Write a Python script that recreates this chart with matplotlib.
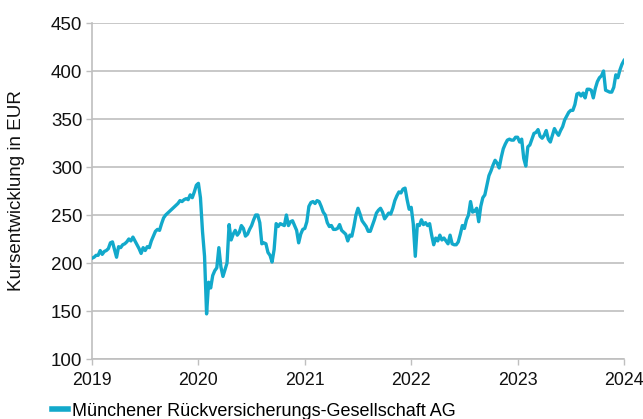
import matplotlib
matplotlib.use("Agg")
import matplotlib.pyplot as plt
import numpy as np
import pandas as pd

series_name = "Münchener Rückversicherungs-Gesellschaft AG"
y_label = "Kursentwicklung in EUR"

# weekly closing prices (EUR)
prices_2019 = [205, 206, 208, 208, 213, 209, 212, 213, 215, 221, 222, 214, 206,
               217, 216, 219, 220, 222, 225, 223, 227, 223, 219, 215, 210, 216,
               213, 217, 216, 223, 228, 233, 235, 234, 241, 247, 250, 252, 254,
               256, 258, 260, 262, 265, 264, 266, 267, 266, 271, 268, 274, 281]
prices_2020 = [283, 268, 233, 207, 147, 180, 174, 187, 192, 195, 216, 196, 186,
               193, 200, 240, 224, 230, 234, 229, 232, 239, 236, 228, 230, 235,
               239, 245, 250, 250, 242, 220, 221, 220, 211, 208, 201, 214, 241,
               238, 241, 240, 239, 250, 239, 243, 244, 239, 234, 221, 230, 235]
prices_2021 = [236, 243, 259, 263, 264, 262, 265, 264, 259, 253, 250, 242, 238,
               239, 235, 235, 236, 240, 234, 232, 230, 223, 229, 228, 238, 250,
               257, 251, 244, 241, 238, 233, 233, 239, 245, 252, 255, 257, 253,
               246, 249, 252, 251, 257, 265, 270, 274, 273, 277, 278, 266, 256]
prices_2022 = [258, 241, 207, 240, 239, 245, 240, 242, 239, 241, 229, 219, 226,
               223, 229, 224, 226, 223, 220, 229, 220, 219, 219, 222, 230, 239,
               236, 245, 250, 264, 253, 254, 257, 243, 259, 268, 271, 281, 291,
               296, 302, 307, 304, 299, 310, 319, 324, 328, 329, 328, 328, 331]
prices_2023 = [331, 326, 329, 309, 301, 321, 323, 329, 335, 336, 339, 332, 330,
               333, 338, 329, 326, 333, 340, 336, 333, 338, 342, 349, 353, 357,
               359, 359, 365, 376, 377, 374, 377, 372, 381, 381, 380, 372, 382,
               389, 393, 395, 400, 380, 379, 378, 378, 383, 396, 393, 401, 407]
price_end = [411]

values = prices_2019 + prices_2020 + prices_2021 + prices_2022 + prices_2023 + price_end
dates = pd.date_range("2019-01-01", "2024-01-01", periods=len(values))

y_ticks = [100, 150, 200, 250, 300, 350, 400, 450]
x_years = [2019, 2020, 2021, 2022, 2023, 2024]

line_color = "#12A9CB"
grid_color = "#BFBFBF"

plt.rcParams["font.family"] = ["Liberation Sans", "DejaVu Sans"]

fig = plt.figure(figsize=(6.43, 4.19), dpi=100)
ax = fig.add_axes([92 / 643, 1 - 359 / 419, (624 - 92) / 643, (359 - 23) / 419])

ax.plot(dates, values, color=line_color, lw=2.4, solid_joinstyle="round",
        label=series_name, zorder=3)

ax.set_ylim(100, 450)
ax.set_yticks(y_ticks)
ax.set_xlim(pd.Timestamp("2019-01-01"), pd.Timestamp("2024-01-01"))
ax.set_xticks([pd.Timestamp(f"{y}-01-01") for y in x_years])
ax.set_xticklabels([str(y) for y in x_years])

ax.yaxis.grid(True, color=grid_color, lw=1.2)
ax.set_axisbelow(True)
for s in ["top", "right"]:
    ax.spines[s].set_visible(False)
for s in ["left", "bottom"]:
    ax.spines[s].set_color(grid_color)
    ax.spines[s].set_linewidth(1.2)

ax.tick_params(axis="both", colors=grid_color, length=4, width=1, labelcolor="#111111",
               labelsize=13.5)
ax.tick_params(axis="x", pad=5, labelsize=12.8)
ax.tick_params(axis="y", pad=3)

ax.set_ylabel(y_label, fontsize=13.5, color="#111111")
ax.yaxis.set_label_coords(-0.125, 0.5)

leg = fig.legend(loc="lower left", bbox_to_anchor=(0.055, -0.04), frameon=False,
                 fontsize=13, handlelength=0.9, handletextpad=0.25)
for h in leg.get_lines():
    h.set_linewidth(4)

fig.savefig("out.png", dpi=100)
